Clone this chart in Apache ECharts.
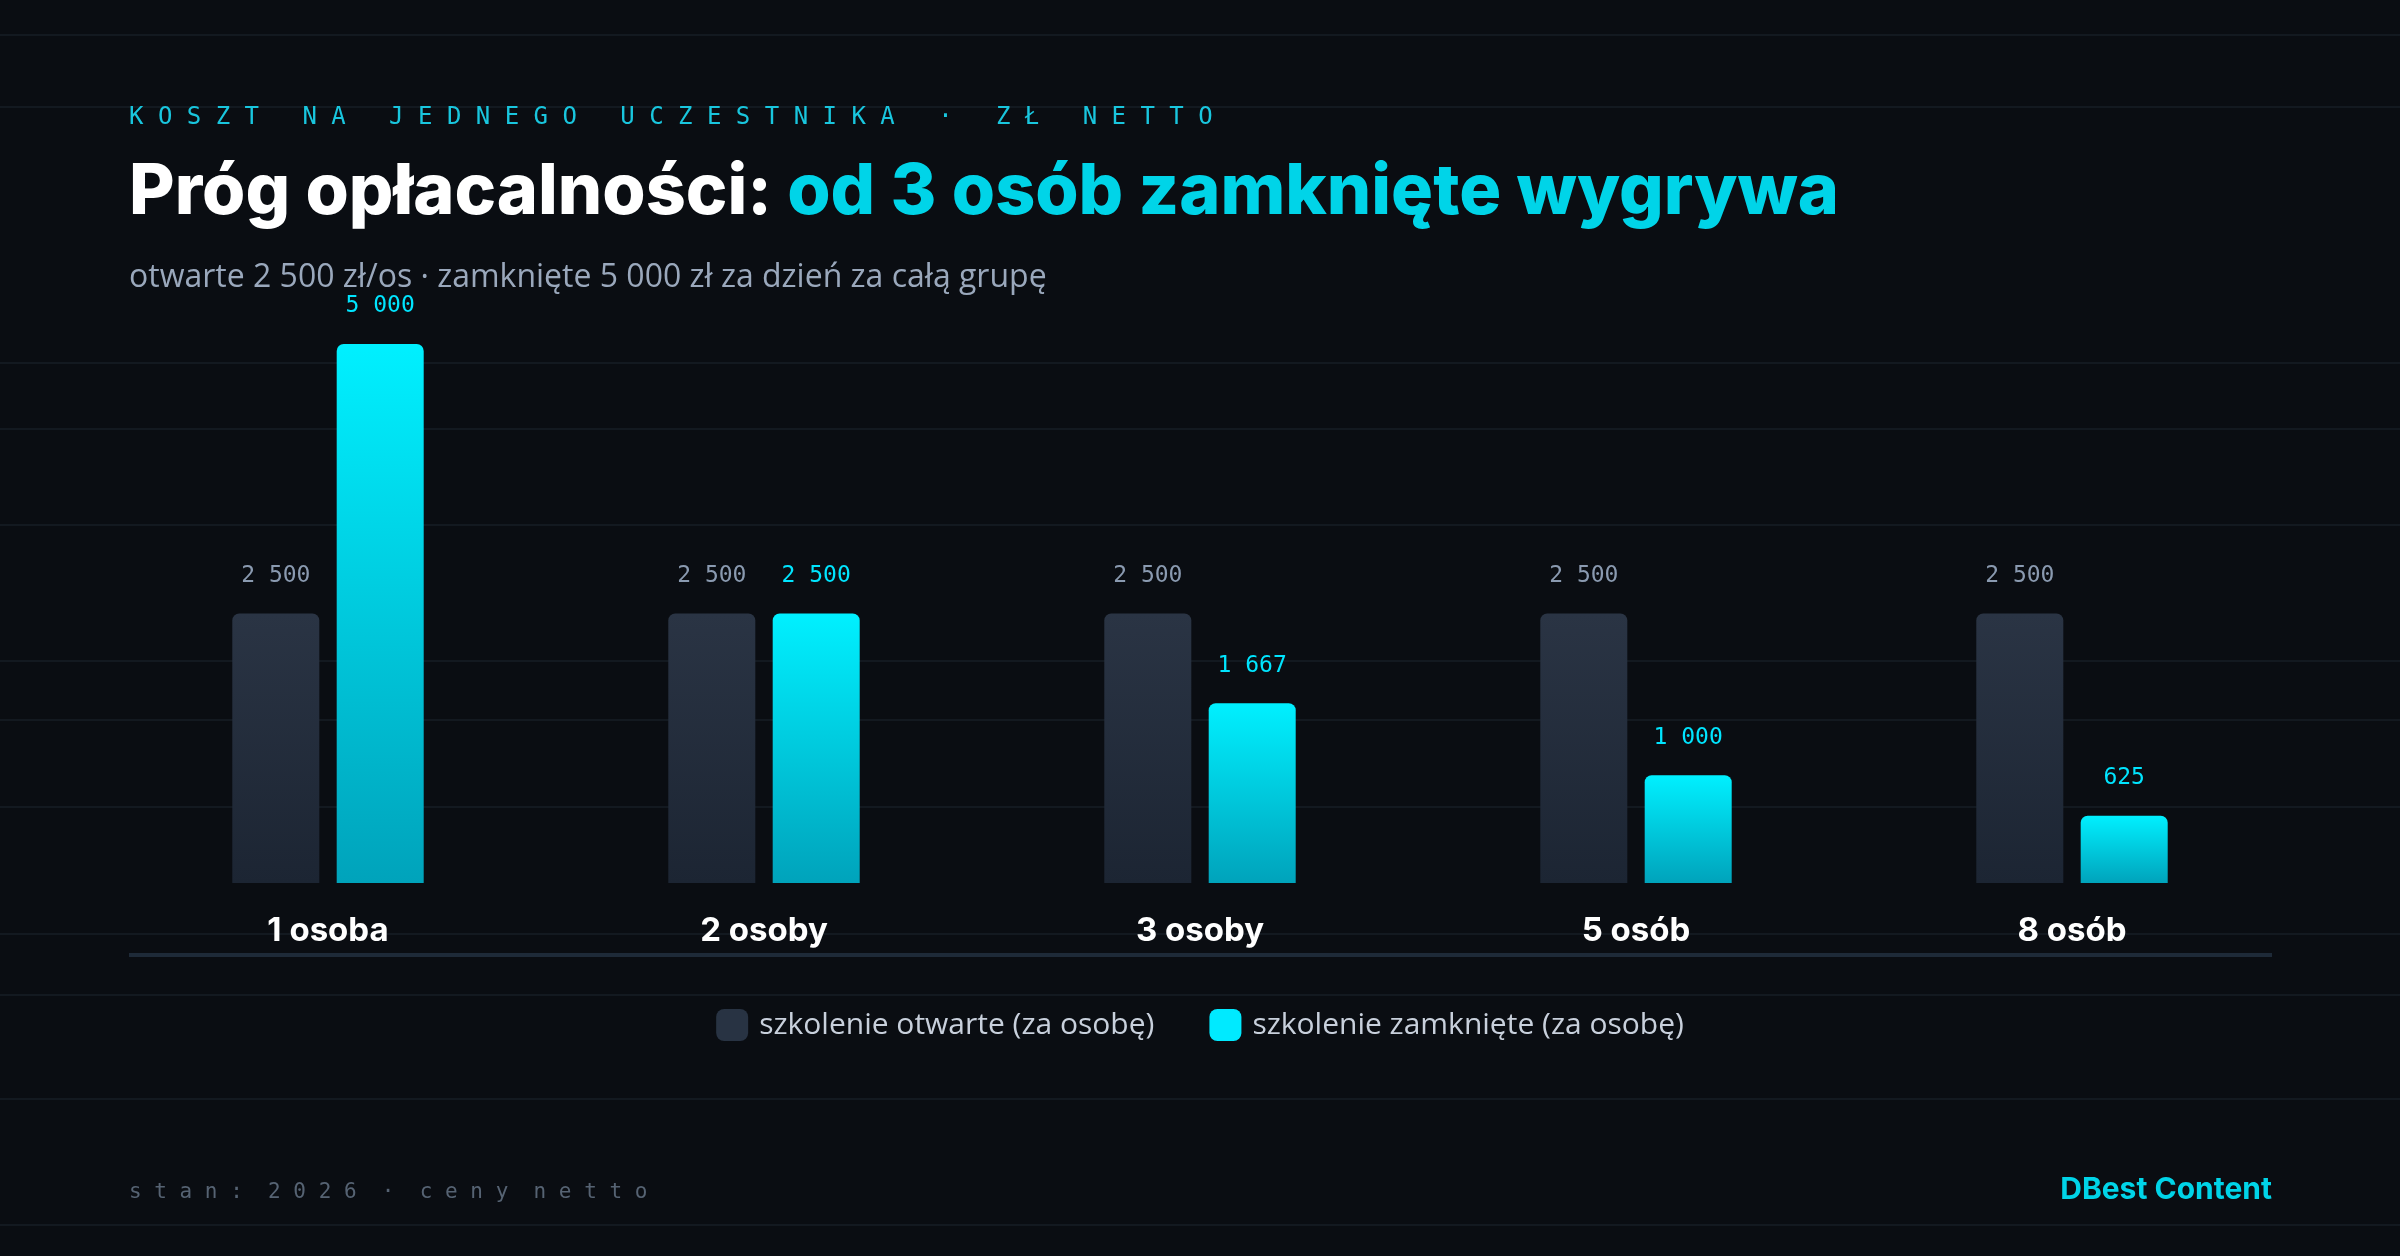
<!DOCTYPE html>
<html><head><meta charset="utf-8">
<script src="https://cdn.jsdelivr.net/npm/echarts@6/dist/echarts.min.js"></script>
<style>html,body{margin:0;padding:0;background:#0a0d12}#c{width:2400px;height:1256px}</style>
</head><body><div id="c"></div>
<script>
const categories = ['1 osoba','2 osoby','3 osoby','5 osób','8 osób'];
const openValues = [2500,2500,2500,2500,2500];
const closedValues = [5000,2500,1667,1000,625];
const seriesNames = ['szkolenie otwarte (za osobę)','szkolenie zamknięte (za osobę)'];
const bgLinesY = [35,107,363,429,525,661,720,807,934,995,1099,1225];

const fmt = v => String(v).replace(/\B(?=(\d{3})+(?!\d))/g,' ');
const chart = echarts.init(document.getElementById('c'));
const lines = bgLinesY.map(y => ({type:'line',shape:{x1:0,y1:y,x2:2400,y2:y},style:{stroke:'#131920',lineWidth:2},silent:true,z:-10}));
chart.setOption({
  backgroundColor:'#0a0d12',
  graphic: lines.concat([
    {type:'text',left:129,top:106,style:{text:'K O S Z T   N A   J E D N E G O   U C Z E S T N I K A   ·   Z Ł   N E T T O',font:'24px "DejaVu Sans Mono"',fill:'#19c6de'}},
    {type:'text',left:129,top:158,style:{rich:{a:{font:'800 70px Inter',fill:'#ffffff'},b:{font:'800 70px Inter',fill:'#00d4e8'}},text:'{a|Próg opłacalności: }{b|od 3 osób zamknięte wygrywa}'}},
    {type:'text',left:129,top:262,style:{text:'otwarte 2 500 zł/os · zamknięte 5 000 zł za dzień za całą grupę',font:'32px "Open Sans"',fill:'#9aa8bc'}},
    {type:'line',shape:{x1:129,y1:955,x2:2272,y2:955},style:{stroke:'#1e2a38',lineWidth:4}},
    {type:'text',left:129,top:1182,style:{text:'s t a n :  2 0 2 6  ·  c e n y  n e t t o',font:'21px "DejaVu Sans Mono"',fill:'#566373'}},
    {type:'text',right:128,top:1175,style:{text:'DBest Content',font:'bold 30px Inter',fill:'#00d4e8'}}
  ]),
  grid:{left:110,right:110,top:344,bottom:373},
  legend:{bottom:210,left:'center',itemWidth:32,itemHeight:32,itemGap:55,icon:'roundRect',
    textStyle:{color:'#c8d0dc',fontSize:30,fontFamily:'"Open Sans"',padding:[0,0,0,6]},
    data:[{name:seriesNames[0],itemStyle:{color:'#283343'}},{name:seriesNames[1],itemStyle:{color:'#00eaff'}}]},
  xAxis:{type:'category',data:categories,axisLine:{show:false},axisTick:{show:false},
    axisLabel:{color:'#ffffff',fontSize:33,fontWeight:'bold',fontFamily:'Inter',margin:32}},
  yAxis:{type:'value',min:0,max:5000,show:false,splitLine:{show:false}},
  series:[
    {name:seriesNames[0],type:'bar',data:openValues,barWidth:87,barGap:'20%',
      itemStyle:{borderRadius:[7,7,0,0],color:new echarts.graphic.LinearGradient(0,0,0,1,[{offset:0,color:'#2a3444'},{offset:1,color:'#1c2533'}])},
      label:{show:true,position:'top',distance:26,color:'#8a9ab0',fontSize:23,fontFamily:'"DejaVu Sans Mono"',formatter:p=>fmt(p.value)}},
    {name:seriesNames[1],type:'bar',data:closedValues,barWidth:87,
      itemStyle:{borderRadius:[7,7,0,0],color:new echarts.graphic.LinearGradient(0,0,0,1,[{offset:0,color:'#00f0ff'},{offset:1,color:'#00a3bb'}])},
      label:{show:true,position:'top',distance:26,color:'#00e5ff',fontSize:23,fontFamily:'"DejaVu Sans Mono"',formatter:p=>fmt(p.value)}}
  ]
});
</script></body></html>
